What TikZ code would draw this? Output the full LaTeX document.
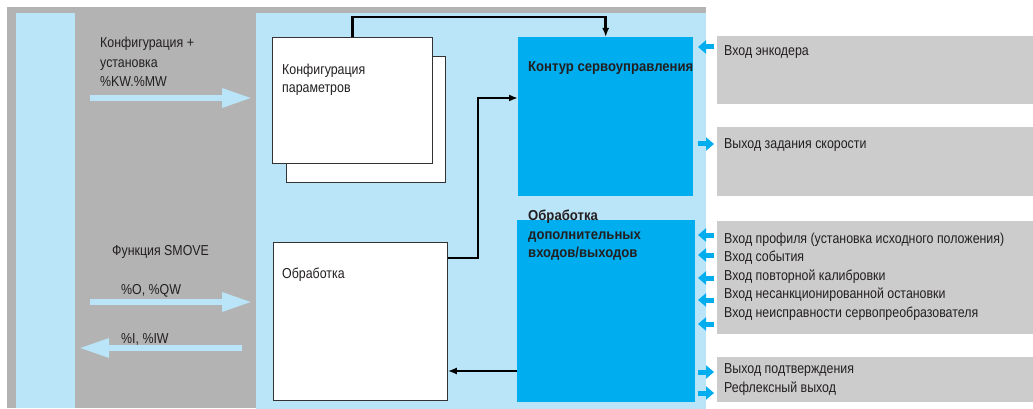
\documentclass[tikz,border=0pt]{standalone}
\usepackage{fontspec}
\setmainfont[FakeStretch=0.86, BoldFeatures={FakeStretch=0.91}]{Liberation Sans}
\usetikzlibrary{arrows.meta}
\definecolor{bggray}{HTML}{B3B3B3}
\definecolor{lblue}{HTML}{BAE4F8}
\definecolor{dblue}{HTML}{00ADEE}
\definecolor{rgray}{HTML}{CCCCCC}
\definecolor{txt}{HTML}{231F20}
\begin{document}
\begin{tikzpicture}[x=1pt,y=-1pt,
  txtl/.style={anchor=base west, inner sep=0pt, font=\fontsize{14.4}{18}\selectfont, text=txt},
  boldl/.style={anchor=base west, inner sep=0pt, font=\fontsize{14.4}{18}\selectfont\bfseries, text=txt},
  wbox/.style={draw=black!80, line width=0.8pt, fill=white, anchor=north west, inner sep=0pt},
  bbox/.style={fill=dblue, anchor=north west, inner sep=0pt},
  gbox/.style={fill=rgray, anchor=north west, inner sep=0pt},
  conn/.style={draw=black, line width=2.6pt, -{Latex[length=9pt,width=7pt]}},
  bigarr/.style={draw=lblue, line width=6pt, -{Triangle[length=30pt,width=18pt]}},
  smarr/.style={draw=dblue, line width=5pt, -{Triangle[length=8pt,width=13pt]}}]
\useasboundingbox (0,0) rectangle (1033,409);
% backgrounds
\fill[bggray] (7,7) rectangle (706,408);
\fill[lblue] (256,13) rectangle (706,409);
\fill[lblue] (16,13) rectangle (75,408);
% boxes
\node[wbox, minimum width=159pt, minimum height=126pt] (cfgback) at (286,56) {};
\node[wbox, minimum width=160pt, minimum height=126pt] (cfg) at (272,37) {};
\node[wbox, minimum width=174pt, minimum height=158pt] (proc) at (273,242) {};
\node[bbox, minimum width=175pt, minimum height=159pt] (servo) at (518,37) {};
\node[bbox, minimum width=178pt, minimum height=182pt] (aux) at (517,220) {};
\node[gbox, minimum width=316pt, minimum height=68pt] (r1) at (717,36) {};
\node[gbox, minimum width=316pt, minimum height=69pt] (r2) at (717,127) {};
\node[gbox, minimum width=316pt, minimum height=113pt] (r3) at (717,221) {};
\node[gbox, minimum width=316pt, minimum height=45pt] (r4) at (717,357) {};
% connectors
\coordinate (top) at (0,17);
\coordinate (j1) at (478,258);
\coordinate (j2) at (478,98);
\coordinate (j3) at (0,371);
\draw[conn] (cfg.north) -- (cfg.north |- top) -| (servo.north);
\draw[conn] (proc.east |- j1) -- (j1) -- (j2) -- (servo.west |- j2);
\draw[conn] (aux.west |- j3) -- (proc.east |- j3);
% big light-blue arrows
\coordinate (a1s) at (90,98);  \coordinate (a1e) at (252,98);
\coordinate (a2s) at (90,302); \coordinate (a2e) at (252,302);
\coordinate (a3s) at (242,348); \coordinate (a3e) at (79,348);
\draw[bigarr] (a1s) -- (a1e);
\draw[bigarr] (a2s) -- (a2e);
\draw[bigarr] (a3s) -- (a3e);
% small arrows
\foreach \y/\n in {47/i1,235/i2,255/i3,278/i4,300/i5,324/i6}{
  \coordinate (\n a) at (714,\y); \coordinate (\n b) at (698,\y);
  \draw[smarr] (\n a) -- (\n b);}
\foreach \y/\n in {144/o1,372/o2,393/o3}{
  \coordinate (\n a) at (698,\y); \coordinate (\n b) at (714,\y);
  \draw[smarr] (\n a) -- (\n b);}
% left texts
\node[txtl] (l1) at (100,48) {Конфигурация +};
\node[txtl] (l2) at (100,67.5) {установка};
\node[txtl] (l3) at (100,87) {\%KW.\%MW};
\node[txtl] (l4) at (112,255) {Функция SMOVE};
\node[txtl] (l5) at (121,294) {\%O, \%QW};
\node[txtl] (l6) at (121,343) {\%I, \%IW};
% box texts
\node[txtl] (c1) at (282,75) {Конфигурация};
\node[txtl] (c2) at (282,93) {параметров};
\node[txtl] (p1) at (282,278) {Обработка};
\node[boldl] (s1) at (528,72) {Контур сервоуправления};
\node[boldl] (x1) at (528,220) {Обработка};
\node[boldl] (x2) at (528,239) {дополнительных};
\node[boldl] (x3) at (528,257.5) {входов/выходов};
% right texts
\node[txtl] (rt1) at (724,56) {Вход энкодера};
\node[txtl] (rt2) at (724,148) {Выход задания скорости};
\node[txtl] (rt3) at (724,243) {Вход профиля (установка исходного положения)};
\node[txtl] (rt4) at (724,261.5) {Вход события};
\node[txtl] (rt5) at (724,280) {Вход повторной калибровки};
\node[txtl] (rt6) at (724,298.5) {Вход несанкционированной остановки};
\node[txtl] (rt7) at (724,317) {Вход неисправности сервопреобразователя};
\node[txtl] (rt8) at (724,373) {Выход подтверждения};
\node[txtl] (rt9) at (724,392) {Рефлексный выход};
\end{tikzpicture}
\end{document}
